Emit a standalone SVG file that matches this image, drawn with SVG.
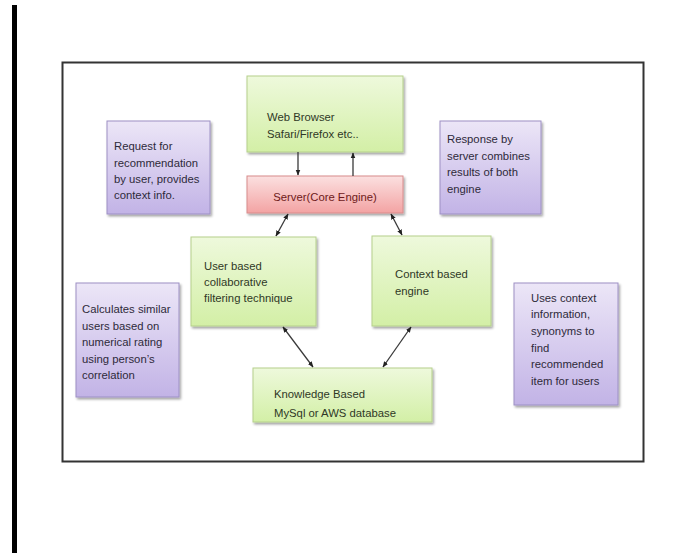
<svg xmlns="http://www.w3.org/2000/svg" width="678" height="553" viewBox="0 0 678 553">
<defs>
<linearGradient id="gGreen" x1="0" y1="0" x2="0" y2="1"><stop offset="0" stop-color="#eef9dc"/><stop offset="1" stop-color="#d3efa6"/></linearGradient>
<linearGradient id="gRed" x1="0" y1="0" x2="0" y2="1"><stop offset="0" stop-color="#fbe0e0"/><stop offset="1" stop-color="#f3a3a3"/></linearGradient>
<linearGradient id="gPurple" x1="0" y1="0" x2="0" y2="1"><stop offset="0" stop-color="#ece6f7"/><stop offset="1" stop-color="#c2b3e6"/></linearGradient>
<filter id="sh" x="-10%" y="-10%" width="130%" height="130%"><feDropShadow dx="1.5" dy="2" stdDeviation="1.2" flood-color="#000" flood-opacity="0.35"/></filter>
<marker id="ah" viewBox="0 0 10 10" refX="9" refY="5" markerWidth="6" markerHeight="6" orient="auto-start-reverse" markerUnits="userSpaceOnUse"><path d="M0,1 L10,5 L0,9 z" fill="#222"/></marker>
<style>
.green{fill:url(#gGreen);stroke:#b5cf8c;stroke-width:1;filter:url(#sh)}
.red{fill:url(#gRed);stroke:#d88c8c;stroke-width:1;filter:url(#sh)}
.purple{fill:url(#gPurple);stroke:#9d90c4;stroke-width:1;filter:url(#sh)}
text{font-family:"Liberation Sans",Arial,sans-serif;font-size:11.3px}
.tg{fill:#2f3826}
.tp{fill:#2e2a3a}
.tr{fill:#6e1a1a}
.conn line{stroke:#3a3a3a;stroke-width:1.3;marker-end:url(#ah)}
.conn line.both{marker-start:url(#ah)}
</style>
</defs>
<rect width="678" height="553" fill="#ffffff"/>
<rect x="12" y="5" width="5" height="548" fill="#000"/>
<rect x="62.5" y="62.5" width="581" height="399" fill="#fff" stroke="#333" stroke-width="2"/>

<g id="web-browser"><rect class="green" x="247" y="76" width="156" height="76"/>
<text class="tg" x="267" y="121">Web Browser</text><text class="tg" x="267" y="138">Safari/Firefox etc..</text></g>

<g id="server"><rect class="red" x="247" y="176" width="156" height="37"/>
<text class="tr" x="325" y="201" text-anchor="middle">Server(Core Engine)</text></g>

<g id="request-note"><rect class="purple" x="107" y="121" width="103" height="93"/>
<text class="tp" x="114" y="150">Request for</text><text class="tp" x="114" y="167">recommendation</text><text class="tp" x="114" y="183">by user, provides</text><text class="tp" x="114" y="199">context info.</text></g>

<g id="response-note"><rect class="purple" x="440" y="121" width="101" height="93"/>
<text class="tp" x="447" y="143">Response by</text><text class="tp" x="447" y="160">server combines</text><text class="tp" x="447" y="176">results of both</text><text class="tp" x="447" y="193">engine</text></g>

<g id="user-based"><rect class="green" x="191" y="237" width="125" height="89"/>
<text class="tg" x="204" y="270">User based</text><text class="tg" x="204" y="286">collaborative</text><text class="tg" x="204" y="302">filtering technique</text></g>

<g id="context-based"><rect class="green" x="372" y="236" width="119" height="90"/>
<text class="tg" x="395" y="278">Context based</text><text class="tg" x="395" y="295">engine</text></g>

<g id="calculates-note"><rect class="purple" x="76" y="283" width="103" height="114"/>
<text class="tp" x="82" y="313">Calculates similar</text><text class="tp" x="82" y="329.5">users based on</text><text class="tp" x="82" y="346">numerical rating</text><text class="tp" x="82" y="362.5">using person’s</text><text class="tp" x="82" y="379">correlation</text></g>

<g id="uses-note"><rect class="purple" x="514" y="283" width="104" height="122"/>
<text class="tp" x="531" y="302">Uses context</text><text class="tp" x="531" y="318">information,</text><text class="tp" x="531" y="335">synonyms to</text><text class="tp" x="531" y="352">find</text><text class="tp" x="531" y="368">recommended</text><text class="tp" x="531" y="385">item for users</text></g>

<g id="knowledge"><rect class="green" x="253" y="368" width="179" height="54"/>
<text class="tg" x="274" y="398">Knowledge Based</text><text class="tg" x="274" y="417">MySql or AWS database</text></g>

<g id="connectors" class="conn">
<line x1="298" y1="152" x2="298" y2="175"/>
<line x1="353" y1="176" x2="353" y2="153"/>
<line class="both" x1="288" y1="214" x2="276" y2="236"/>
<line class="both" x1="391" y1="214" x2="402" y2="235"/>
<line class="both" x1="283" y1="327" x2="313" y2="367"/>
<line class="both" x1="411" y1="327" x2="383" y2="367"/>
</g>
</svg>
